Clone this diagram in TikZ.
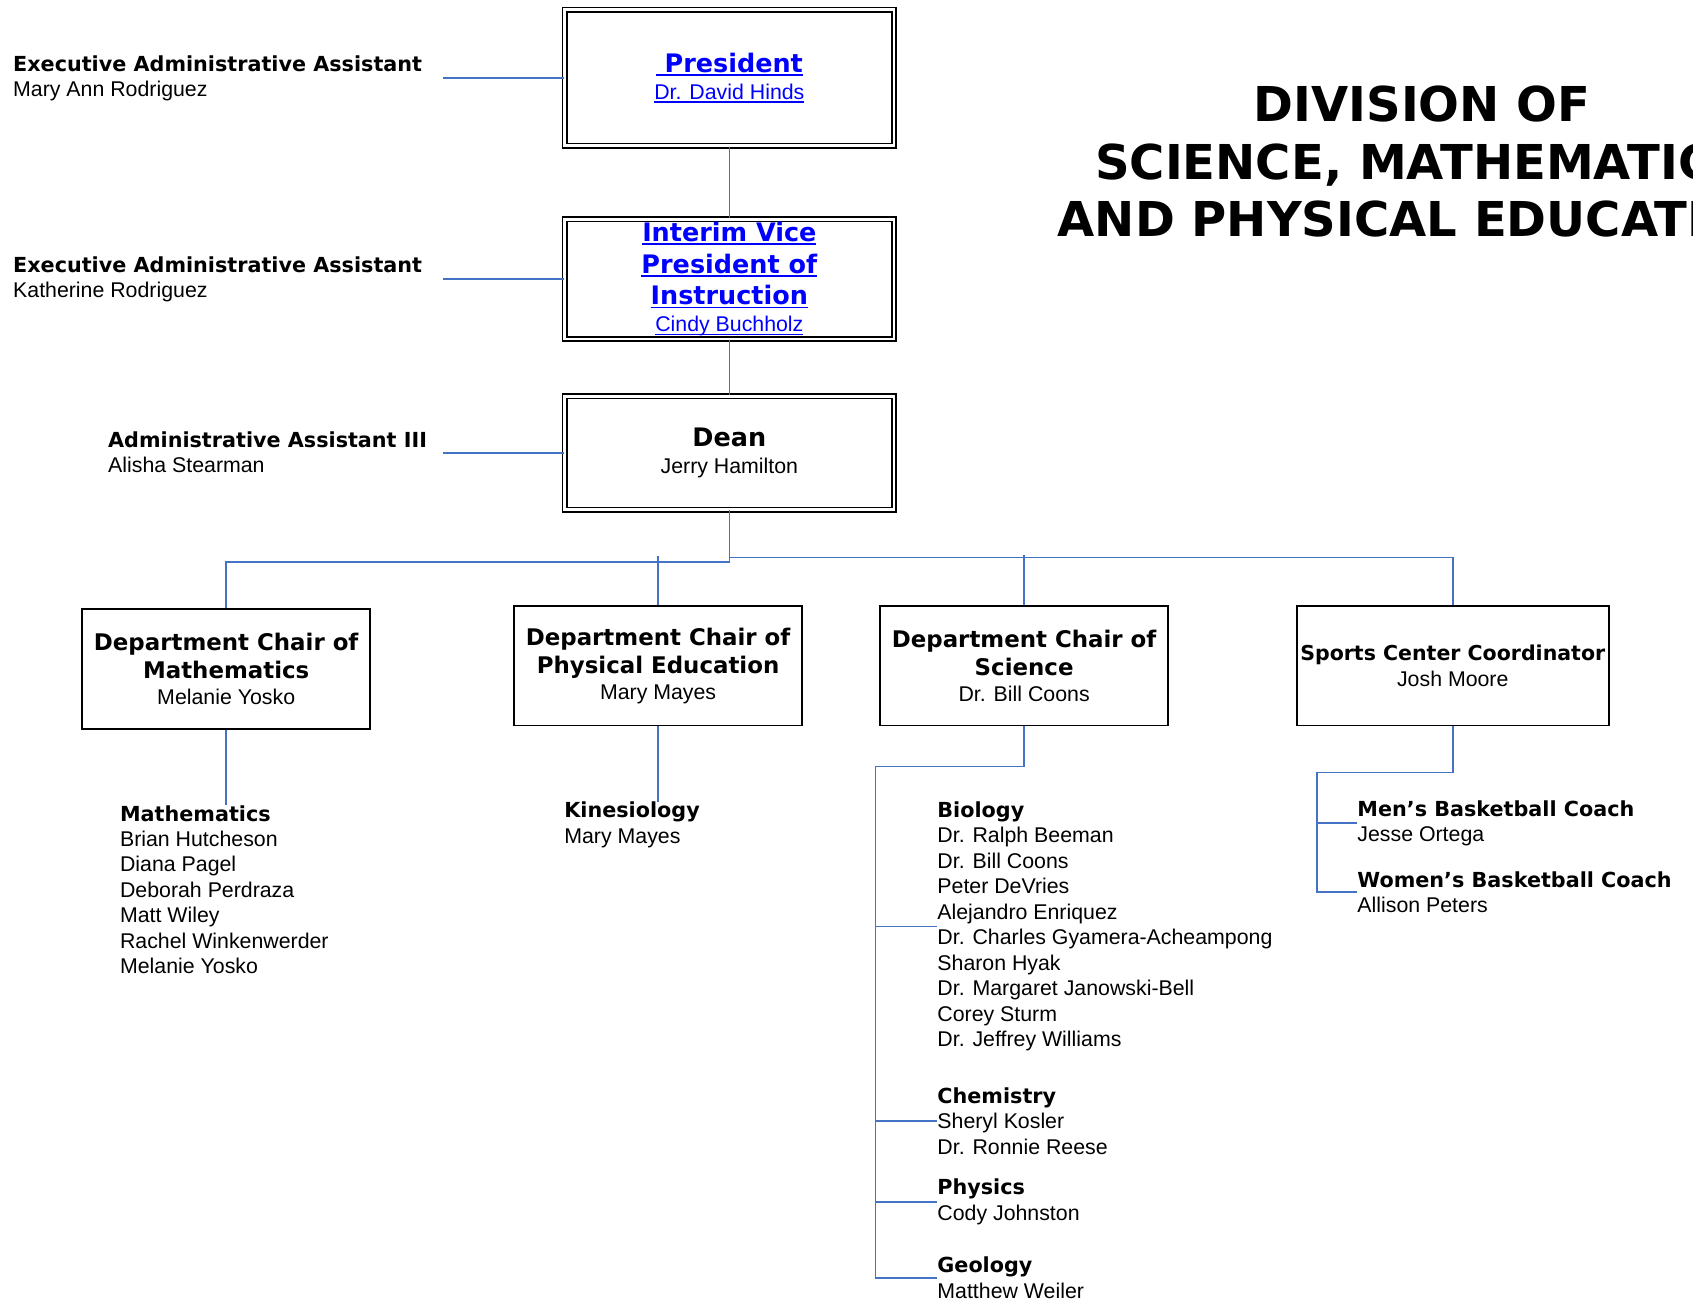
\documentclass[tikz,border=0pt]{standalone}
\usepackage{fontspec}
\setmainfont{Liberation Sans}
\newfontfamily\heavyfont{DejaVu Sans}
\definecolor{linkblue}{RGB}{0,0,255}
\definecolor{linecol}{RGB}{68,114,196}
\newsavebox\lnkbox
\newcommand\lnk[1]{\sbox\lnkbox{#1}\rlap{\rule[-3.2pt]{\wd\lnkbox}{1.4pt}}\usebox\lnkbox}
\newcommand\nm{\normalfont\fontsize{19.75}{23.6}\selectfont}
\newcommand\hd{\heavyfont\bfseries\fontsize{19.2}{23.6}\selectfont}
\newcommand\chairhd{\heavyfont\bfseries\fontsize{21.2}{26.3}\selectfont}
\newcommand\tophd{\heavyfont\bfseries\fontsize{23.6}{29.5}\selectfont}
\newcommand\titlefont{\heavyfont\bfseries\fontsize{44.5}{53.3}\selectfont}

\begin{document}
\begin{tikzpicture}[x=1pt,y=-1pt,
    conn/.style={draw=linecol,line width=1.5pt},
    topbox/.style={draw,line width=1.6pt,double,double distance=2.6pt,
      minimum width=305pt,inner sep=0pt,align=center,font=\tophd},
    chairbox/.style={draw,line width=1.6pt,minimum width=267pt,minimum height=111pt,
      inner sep=0pt,align=center,font=\chairhd},
    grp/.style={anchor=base west,align=left,inner sep=0pt,font=\nm}]
  \useasboundingbox (0,0) rectangle (1568,1207);
  \clip (0,0) rectangle (1568,1207);

  \node (title) [anchor=base,align=center,font=\titlefont] at (1317,219.2)
    {DIVISION OF\\SCIENCE, MATHEMATICS\\AND PHYSICAL EDUCATION};

  % president, vice president, dean
  \node (pres) [topbox,minimum height=126pt,text=linkblue] at (675.5,72)
    {\lnk{~President}\\[-4.5pt]{\nm\lnk{Dr. David Hinds}}};
  \node (vp) [topbox,minimum height=111pt,text=linkblue] at (675.5,258.5)
    {\lnk{Interim Vice}\\\lnk{President of}\\\lnk{Instruction}\\[-4.5pt]{\nm\lnk{Cindy Buchholz}}};
  \node (dean) [topbox,minimum height=105pt] at (675.5,419.5)
    {Dean\\[-4pt]{\nm Jerry Hamilton}};

  \node (ea1) [grp] at (12,89.5) {{\hd Executive Administrative Assistant}\\Mary Ann Rodriguez};
  \node (ea2) [grp] at (12,275.7) {{\hd Executive Administrative Assistant}\\Katherine Rodriguez};
  \node (aa3) [grp] at (100,437.8) {{\hd Administrative Assistant III}\\Alisha Stearman};

  \draw[conn] (pres.west) -- ++(-112,0);
  \draw[conn] (vp.west) -- ++(-112,0);
  \draw[conn] (dean.west) -- ++(-112,0);
  \draw[conn] (pres.south) -- (vp.north);
  \draw[conn] (vp.south) -- (dean.north);

  % chairs
  \node (math) [chairbox] at (209.5,619.5)
    {Department Chair of\\Mathematics\\[-2.6pt]{\nm Melanie Yosko}};
  \node (pe) [chairbox] at (609.5,616.5)
    {Department Chair of\\Physical Education\\[-2.6pt]{\nm Mary Mayes}};
  \node (sci) [chairbox] at (948.5,616.5)
    {Department Chair of\\Science\\[-2.6pt]{\nm Dr. Bill Coons}};
  \node (sports) [chairbox,minimum width=289pt,font=\nm] at (1345.5,616.5)
    {{\hd\fontsize{19}{23.6}\selectfont Sports Center Coordinator}\\Josh Moore};

  \draw[conn] (dean.south) -- ++(0,47.5) -| (math.north);
  \draw[conn] (dean.south) -- ++(0,43.5) -| (sports.north);
  \draw[conn] (pe.north) -- ++(0,-45);
  \draw[conn] (sci.north) -- ++(0,-46);

  % staff lists
  \node (mathgrp) [grp] at (111,902) {{\hd Mathematics}\\Brian Hutcheson\\Diana Pagel\\Deborah Perdraza\\Matt Wiley\\Rachel Winkenwerder\\Melanie Yosko};
  \node (kin) [grp] at (522.5,781) {{\hd Kinesiology}\\Mary Mayes};
  \node (bio) [grp] at (868,969.4) {{\hd Biology}\\Dr. Ralph Beeman\\Dr. Bill Coons\\Peter DeVries\\Alejandro Enriquez\\Dr. Charles Gyamera-Acheampong\\Sharon Hyak\\Dr. Margaret Janowski-Bell\\Corey Sturm\\Dr. Jeffrey Williams};
  \node (chem) [grp] at (868,1068.8) {{\hd Chemistry}\\Sheryl Kosler\\Dr. Ronnie Reese};
  \node (phys) [grp] at (868,1130) {{\hd Physics}\\Cody Johnston};
  \node (geo) [grp] at (868,1202.5) {{\hd Geology}\\Matthew Weiler};
  \node (men) [grp] at (1257,779.5) {{\hd Men’s Basketball Coach}\\Jesse Ortega};
  \node (women) [grp] at (1257,845.3) {{\hd Women’s Basketball Coach}\\Allison Peters};

  \draw[conn] (math.south) -- (math.south |- mathgrp.north);
  \draw[conn] (pe.south) -- (pe.south |- kin.north);

  \coordinate (scidrop) at (811,710);
  \draw[conn] (sci.south) |- (scidrop) |- (geo.west);
  \foreach \g in {bio,chem,phys}
    \draw[conn] (scidrop |- \g.west) -- (\g.west);

  \coordinate (spdrop) at (1219.5,715.3);
  \draw[conn] (sports.south) |- (spdrop) |- (women.west);
  \draw[conn] (spdrop |- men.west) -- (men.west);
\end{tikzpicture}
\end{document}
